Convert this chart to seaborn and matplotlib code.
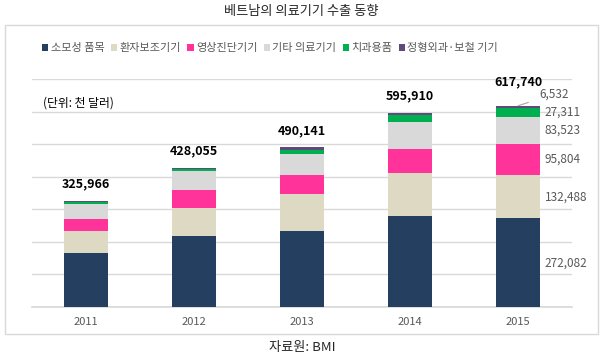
import numpy as np
import pandas as pd
import matplotlib
matplotlib.use("Agg")
import matplotlib.pyplot as plt
from matplotlib.patches import Patch, Rectangle
import seaborn as sns

# 데이터 (단위: 천 달러)
years = ["2011", "2012", "2013", "2014", "2015"]
series_names = ["소모성 품목", "환자보조기기", "영상진단기기", "기타 의료기기", "치과용품", "정형외과·보철 기기"]
consumables = [166000, 218500, 232700, 279500, 272082]
patient_aids = [68000, 86500, 113300, 132000, 132488]
imaging = [37000, 55500, 58200, 73800, 95804]
other_devices = [45500, 56300, 65300, 83000, 83523]
dental = [6300, 6200, 11200, 21500, 27311]
ortho = [3166, 5055, 9441, 6110, 6532]
totals = [325966, 428055, 490141, 595910, 617740]

colors = ["#243F60", "#DDD9C3", "#FF3399", "#D9D9D9", "#00B050", "#604A7B"]
gray_text = "#595959"

sns.set_theme(style="white")
plt.rcParams["font.family"] = ["Noto Sans CJK KR", "DejaVu Sans"]

df = pd.DataFrame({
    "year": years,
    series_names[0]: consumables,
    series_names[1]: patient_aids,
    series_names[2]: imaging,
    series_names[3]: other_devices,
    series_names[4]: dental,
    series_names[5]: ortho,
})
cum = df[series_names].cumsum(axis=1)

fig = plt.figure(figsize=(6.03, 3.57), dpi=100)
ax = fig.add_axes([32 / 603, 1 - 307 / 357, 540 / 603, 228 / 357])

# 누적 막대: 위에서부터 겹쳐 그리기
for i in range(len(series_names) - 1, -1, -1):
    sns.barplot(x=df["year"], y=cum[series_names[i]], color=colors[i], width=0.4,
                saturation=1, linewidth=0, ax=ax, zorder=3)

ax.set_ylim(0, 700000)
ax.set_xlim(-0.5, 4.5)
ax.set_yticks(np.arange(0, 700001, 100000))
ax.set_yticklabels([])
ax.yaxis.grid(True, color="#D9D9D9", linewidth=1)
ax.set_axisbelow(True)
ax.set_xlabel("")
ax.set_ylabel("")
ax.tick_params(axis="x", length=0, labelsize=8, labelcolor=gray_text, pad=7)
ax.tick_params(axis="y", length=0)
for side in ["top", "right", "left"]:
    ax.spines[side].set_visible(False)
ax.spines["bottom"].set_color("#D9D9D9")

# 합계 라벨
for i, t in enumerate(totals):
    off = 17 if i == 4 else 12
    ax.annotate(f"{t:,}", (i, t), xytext=(0, off), textcoords="offset points",
                ha="center", va="center", fontsize=9, fontweight="bold", color="black")

# 2015년 항목 라벨
last = df[series_names].iloc[4]
last_cum = cum.iloc[4]
for j in range(5):
    y = last_cum.iloc[j] - last.iloc[j] / 2
    ax.text(4.245, y, f"{last.iloc[j]:,}", ha="left", va="center", fontsize=8.5, color=gray_text)
ax.annotate(f"{last.iloc[5]:,}", xy=(4.0, last_cum.iloc[5]), xytext=(4.2, 654000),
            ha="left", va="center", fontsize=8.5, color=gray_text,
            arrowprops=dict(arrowstyle="-", color="#A6A6A6", lw=0.8, shrinkA=6, shrinkB=0))

ax.text(0.02, 0.895, "(단위: 천 달러)", transform=ax.transAxes, ha="left", va="center",
        fontsize=8.5, color="black")

# 범례
handles = [Patch(facecolor=c, edgecolor="none") for c in colors]
fig.legend(handles, series_names, loc="center", bbox_to_anchor=(270 / 603, 1 - 48 / 357),
           ncol=6, frameon=False, fontsize=8, labelcolor=gray_text,
           handlelength=0.6, handleheight=0.6, handletextpad=0.2, columnspacing=0.55)

# 테두리, 제목, 출처
fig.patches.append(Rectangle((5 / 603, 1 - 334 / 357), 593 / 603, 309 / 357,
                             transform=fig.transFigure, fill=False, edgecolor="#D9D9D9", linewidth=1))
fig.text(301 / 603, 1 - 12 / 357, "베트남의 의료기기 수출 동향", ha="center", va="center", fontsize=9.5)
fig.text(302 / 603, 1 - 347 / 357, "자료원: BMI", ha="center", va="center", fontsize=9.5)

fig.savefig("out.png", dpi=100)
